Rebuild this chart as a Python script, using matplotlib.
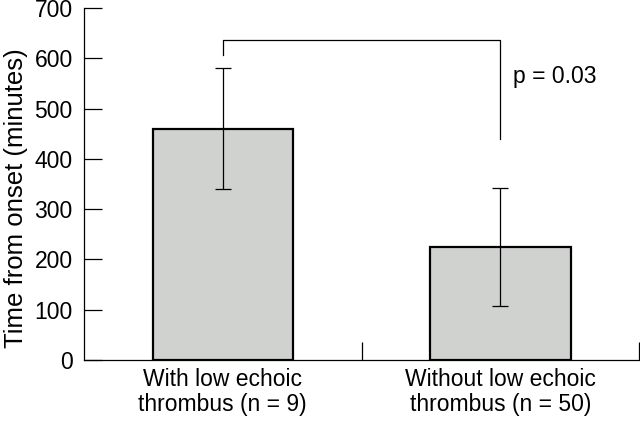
import matplotlib.pyplot as plt

# data
groups = ["With low echoic\nthrombus (n = 9)", "Without low echoic\nthrombus (n = 50)"]
means = [460, 225]
err_low = [120, 117]
err_high = [120, 117]
bracket_top = 636
bracket_left_end = 606
bracket_right_end = 439
p_text = "p = 0.03"

plt.rcParams['font.family'] = ['Liberation Sans', 'DejaVu Sans']

fig = plt.figure(figsize=(6.4, 4.21), dpi=100)
ax = fig.add_axes([0.131, 0.145, 0.868, 0.836])

x = list(range(len(groups)))
ax.bar(x, means, width=0.505, color='#d0d2d0', edgecolor='black', linewidth=1.6, zorder=2)
ax.errorbar(x, means, yerr=[err_low, err_high], fmt='none', ecolor='black',
            elinewidth=0.9, capsize=6, capthick=0.9, zorder=3)

# significance bracket
ax.plot([x[0], x[0], x[1], x[1]],
        [bracket_left_end, bracket_top, bracket_top, bracket_right_end],
        color='black', linewidth=0.9, clip_on=False)
ax.text(x[1] + 0.045, 563, p_text, fontsize=16.5, ha='left', va='center')

ax.set_xlim(-0.5, 1.5)
ax.set_ylim(0, 700)
ax.set_yticks(range(0, 701, 100))
ax.tick_params(axis='y', direction='in', length=13, width=0.9, labelsize=16.5, pad=8)

ax.set_xticks(x)
ax.set_xticklabels(groups, fontsize=16.5, linespacing=1.12)
ax.tick_params(axis='x', which='major', length=0, pad=6)
ax.set_xticks([0.5, 1.5], minor=True)
ax.tick_params(axis='x', which='minor', direction='in', length=13, width=0.9)

ax.set_ylabel("Time from onset (minutes)", fontsize=18.5, labelpad=5)
ax.yaxis.label.set_y(0.46)

for side in ['top', 'right']:
    ax.spines[side].set_visible(False)
for side in ['left', 'bottom']:
    ax.spines[side].set_linewidth(0.9)

fig.savefig("out.png", dpi=100)
